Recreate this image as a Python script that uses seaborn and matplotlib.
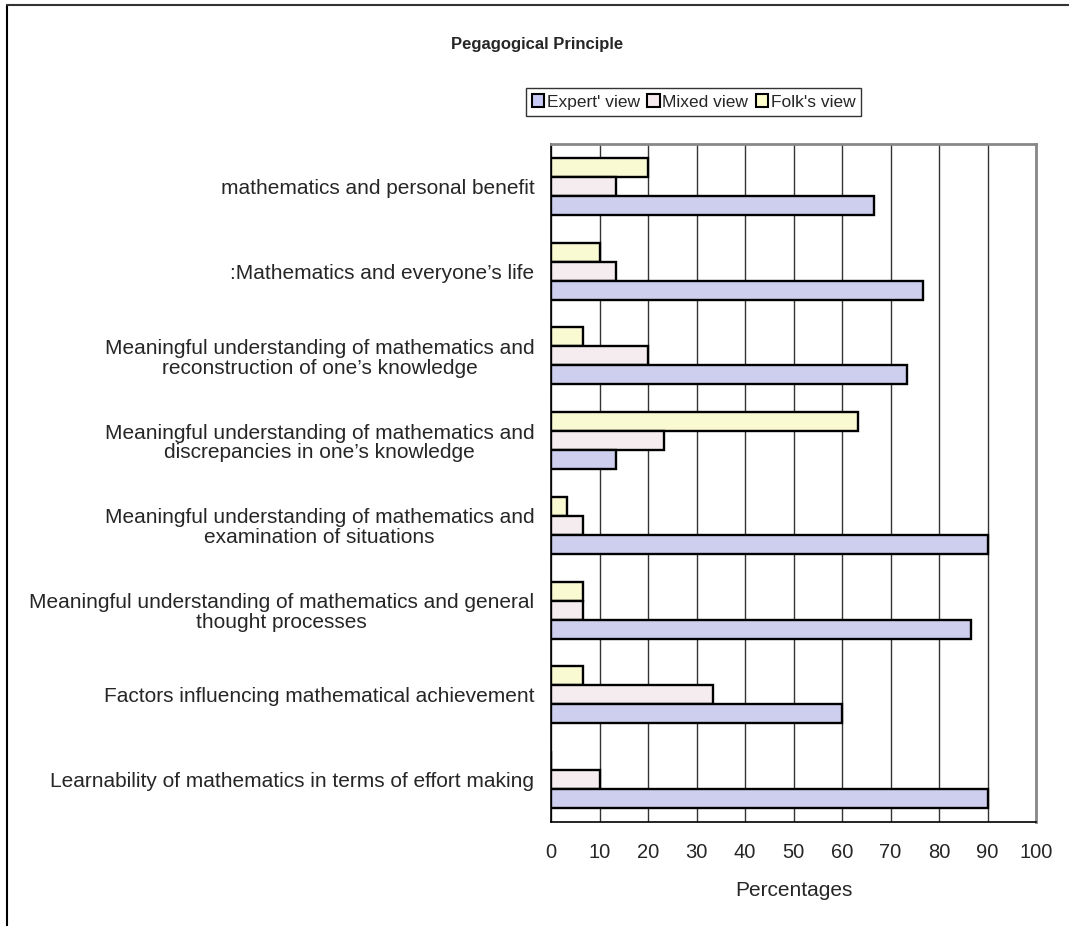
import pandas as pd
import matplotlib.pyplot as plt
import seaborn as sns
from matplotlib.patches import Patch
from matplotlib.lines import Line2D

# 데이터
categories = [
    "mathematics and personal benefit",
    ":Mathematics and everyone\u2019s life",
    "Meaningful understanding of mathematics and\nreconstruction of one\u2019s knowledge",
    "Meaningful understanding of mathematics and\ndiscrepancies in one\u2019s knowledge",
    "Meaningful understanding of mathematics and\nexamination of situations",
    "Meaningful understanding of mathematics and general\nthought processes",
    "Factors influencing mathematical achievement",
    "Learnability of mathematics in terms of effort making",
]
expert = [66.7, 76.7, 73.3, 13.3, 90.0, 86.7, 60.0, 90.0]
mixed = [13.3, 13.3, 20.0, 23.3, 6.7, 6.7, 33.3, 10.0]
folk = [20.0, 10.0, 6.7, 63.3, 3.3, 6.7, 6.7, 0.0]
series = ["Expert' view", "Mixed view", "Folk's view"]
x_ticks = list(range(0, 101, 10))

df = pd.DataFrame({
    'Principle': categories * 3,
    'View': [series[0]] * 8 + [series[1]] * 8 + [series[2]] * 8,
    'Percent': expert + mixed + folk,
})

colors = {series[0]: '#C8CAF5', series[1]: '#F6EAEF', series[2]: '#FFFFCC'}

# 스타일
sns.set_style('white')
plt.rcParams['font.family'] = ['Liberation Sans', 'DejaVu Sans']

fig = plt.figure(figsize=(10.69, 9.26), dpi=100)
ax = fig.add_axes([551 / 1069, 1 - 822 / 926, (1036 - 551) / 1069, (822 - 144) / 926])

sns.barplot(
    data=df, x='Percent', y='Principle', hue='View',
    order=categories, hue_order=[series[2], series[1], series[0]],
    orient='h', width=0.67, palette=colors,
    edgecolor='black', linewidth=1.7, legend=False, ax=ax,
)

ax.set_xlim(0, 100)
ax.set_ylim(7.5, -0.5)
ax.set_xticks(x_ticks)
ax.set_xticklabels([str(t) for t in x_ticks], fontsize=14.5)
ax.tick_params(axis='x', direction='out', length=5, color='black', pad=10)
ax.tick_params(axis='y', which='major', length=0, pad=12, labelsize=15)
for lab in ax.get_yticklabels():
    lab.set_multialignment('center')
    lab.set_linespacing(1.05)
ax.set_yticks([i - 0.5 for i in range(9)], minor=True)
ax.tick_params(axis='y', which='minor', direction='out', length=5, color='#555555')

ax.xaxis.grid(True, color='#333333', linewidth=1)
ax.set_axisbelow(True)
ax.set_ylabel('')
ax.set_xlabel('Percentages', fontsize=15, labelpad=14)

for side in ['left', 'bottom']:
    ax.spines[side].set_color('black')
    ax.spines[side].set_linewidth(1.2)
for side in ['top', 'right']:
    ax.spines[side].set_color('#888888')
    ax.spines[side].set_linewidth(2)

# 범례
handles = [Patch(facecolor=colors[s], edgecolor='black', linewidth=1.5, label=s) for s in series]
fig.legend(
    handles=handles, loc='center', ncol=3,
    bbox_to_anchor=((537 + 850) / 2 / 1069, 1 - 102 / 926),
    fontsize=12.5, frameon=True, fancybox=False, edgecolor='black',
    handlelength=0.7, handleheight=0.7, handletextpad=0.15,
    columnspacing=0.45, borderpad=0.35,
)

fig.text(537 / 1069, 1 - 45 / 926, 'Pegagogical Principle',
         ha='center', va='center', fontsize=12, fontweight='bold')

# 테두리
fig.add_artist(Line2D([7 / 1069, 7 / 1069], [0, 1 - 5 / 926], color='black', lw=1.5))
fig.add_artist(Line2D([7 / 1069, 1], [1 - 5 / 926, 1 - 5 / 926], color='#333333', lw=1.5))

plt.savefig('out.png', dpi=100)
